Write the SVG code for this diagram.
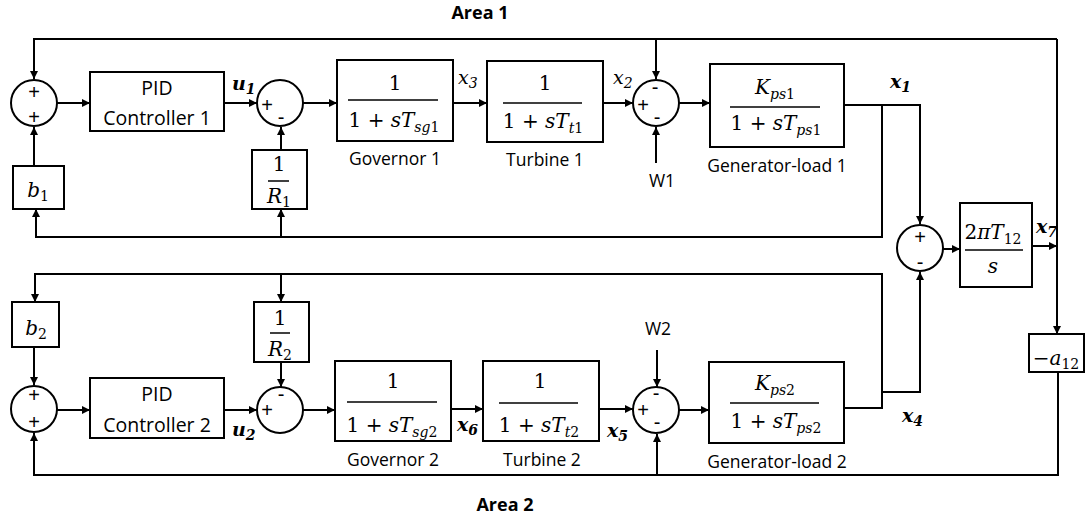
<svg xmlns="http://www.w3.org/2000/svg" width="1087" height="520" viewBox="0 0 1087 520">
<defs>
<marker id="ah" viewBox="0 0 10 10" refX="10" refY="5" markerWidth="9" markerHeight="8" markerUnits="userSpaceOnUse" orient="auto"><path d="M0,0 L10,5 L0,10 z" fill="#000"/></marker>
<style>
.ln{fill:none;stroke:#000;stroke-width:2}
.ar{fill:none;stroke:#000;stroke-width:2;marker-end:url(#ah)}
.bx{fill:#fff;stroke:#000;stroke-width:2}
.fl{stroke:#000;stroke-width:1.5}
.sn{font-family:'Open Sans','Liberation Sans',sans-serif;font-size:17.5px;fill:#000;text-anchor:middle}
.pid{font-family:'Open Sans','Liberation Sans',sans-serif;font-size:19.5px;fill:#000;text-anchor:middle}
.mt{font-family:'DejaVu Serif','Liberation Serif',serif;font-size:20px;fill:#000;text-anchor:middle}
.it{font-style:italic}
.sub{font-size:14px}
.lb{font-family:'DejaVu Serif','Liberation Serif',serif;font-style:italic;font-weight:bold;font-size:19px;fill:#000}
.lr{font-family:'DejaVu Serif','Liberation Serif',serif;font-style:italic;font-size:19px;fill:#000}
.sg{font-family:'Liberation Sans','Open Sans',sans-serif;font-size:20px;fill:#000;text-anchor:middle}
.ttl{font-family:'Open Sans','Liberation Sans',sans-serif;font-weight:bold;font-size:18px;fill:#000;text-anchor:middle}
</style>
</defs>
<rect width="1087" height="520" fill="#fff"/>

<g id="connectors">
<path class="ar" d="M1057,39 H34 V79"/>
<path class="ar" d="M656,39 V79"/>
<path class="ar" d="M1057,39 V334"/>
<path class="ar" d="M1032,246 H1057"/>
<path class="ar" d="M1058,372 V475 H34 V433"/>
<path class="ar" d="M657,475 V434"/>
<path class="ar" d="M844,105 H920 V224"/>
<path class="ar" d="M882,105 V237 H36 V209"/>
<path class="ar" d="M281,237 V209"/>
<path class="ar" d="M34,166 V127"/>
<path class="ar" d="M281,150 V127"/>
<path class="ar" d="M57,103 H90"/>
<path class="ar" d="M224,103 H257"/>
<path class="ar" d="M303,103 H337"/>
<path class="ar" d="M453,103 H487"/>
<path class="ar" d="M603,103 H633"/>
<path class="ar" d="M679,103 H710"/>
<path class="ar" d="M656,163 V127"/>
<path class="ar" d="M943,249 H960"/>
<path class="ar" d="M844,408 H882 V274 H35 V302"/>
<path class="ar" d="M281,274 V302"/>
<path class="ar" d="M882,392 H920 V272"/>
<path class="ar" d="M34,347 V385"/>
<path class="ar" d="M281,362 V387"/>
<path class="ar" d="M57,410 H90"/>
<path class="ar" d="M224,410 H257"/>
<path class="ar" d="M303,410 H335"/>
<path class="ar" d="M451,409 H483"/>
<path class="ar" d="M599,409 H633"/>
<path class="ar" d="M679,410 H709"/>
<path class="ar" d="M657,350 V387"/>
</g>

<g id="titles">
<text class="ttl" x="480" y="19">Area 1</text>
<text class="ttl" x="505" y="511">Area 2</text>
</g>

<g id="sum1">
<circle class="bx" cx="34" cy="103" r="23"/>
<text class="sg" x="34" y="99">+</text>
<text class="sg" x="34" y="124">+</text>
</g>
<g id="pid1">
<rect class="bx" x="90" y="72" width="134" height="59"/>
<text class="pid" x="157" y="95">PID</text>
<text class="pid" x="157" y="125">Controller 1</text>
</g>
<text id="u1" class="lb" x="232" y="90">u<tspan class="sub" dy="4">1</tspan></text>
<g id="sum2">
<circle class="bx" cx="280" cy="103" r="23"/>
<text class="sg" x="267" y="112">+</text>
<text class="sg" x="281" y="124">-</text>
</g>
<g id="r1">
<rect class="bx" x="252" y="150" width="55" height="59"/>
<text class="mt" x="279" y="171">1</text>
<line class="fl" x1="268" y1="181" x2="289" y2="181"/>
<text class="mt" x="279" y="203"><tspan class="it">R</tspan><tspan class="sub" dy="4">1</tspan></text>
</g>
<g id="b1">
<rect class="bx" x="13" y="166" width="51" height="43"/>
<text class="mt" x="38" y="197"><tspan class="it">b</tspan><tspan class="sub" dy="4">1</tspan></text>
</g>
<g id="gov1">
<rect class="bx" x="337" y="60" width="116" height="81"/>
<text class="mt" x="395" y="90">1</text>
<line class="fl" x1="348" y1="100" x2="438" y2="100"/>
<text class="mt" x="394" y="127">1 + <tspan class="it">sT</tspan><tspan class="it sub" dy="5">sg</tspan><tspan class="sub">1</tspan></text>
<text class="sn" x="395" y="165">Governor 1</text>
</g>
<text id="x3" class="lr" x="458" y="84">x<tspan class="sub" dy="4">3</tspan></text>
<g id="turb1">
<rect class="bx" x="487" y="61" width="116" height="81"/>
<text class="mt" x="545" y="90">1</text>
<line class="fl" x1="503" y1="103" x2="582" y2="103"/>
<text class="mt" x="543" y="128">1 + <tspan class="it">sT</tspan><tspan class="it sub" dy="5">t</tspan><tspan class="sub">1</tspan></text>
<text class="sn" x="545" y="166">Turbine 1</text>
</g>
<text id="x2" class="lr" x="613" y="84">x<tspan class="sub" dy="4">2</tspan></text>
<g id="sum3">
<circle class="bx" cx="656" cy="103" r="23"/>
<text class="sg" x="655" y="94">-</text>
<text class="sg" x="643" y="112">+</text>
<text class="sg" x="657" y="124">-</text>
<text class="sn" x="662" y="187">W1</text>
</g>
<g id="gen1">
<rect class="bx" x="710" y="64" width="134" height="83"/>
<text class="mt" x="775" y="94"><tspan class="it">K</tspan><tspan class="it sub" dy="5">ps</tspan><tspan class="sub">1</tspan></text>
<line class="fl" x1="730" y1="107" x2="820" y2="107"/>
<text class="mt" x="776" y="130">1 + <tspan class="it">sT</tspan><tspan class="it sub" dy="5">ps</tspan><tspan class="sub">1</tspan></text>
<text class="sn" x="777" y="172">Generator-load 1</text>
</g>
<text id="x1" class="lb" x="890" y="88">x<tspan class="sub" dy="4">1</tspan></text>
<g id="sum4">
<circle class="bx" cx="920" cy="248" r="23"/>
<text class="sg" x="920" y="244">+</text>
<text class="sg" x="920" y="269">-</text>
</g>
<g id="tie">
<rect class="bx" x="960" y="203" width="72" height="84"/>
<text class="mt" x="993" y="239">2<tspan class="it">πT</tspan><tspan class="sub" dy="5">12</tspan></text>
<line class="fl" x1="965" y1="250" x2="1023" y2="250"/>
<text class="mt it" x="993" y="273">s</text>
</g>
<text id="x7" class="lb" x="1036" y="233">x<tspan class="sub" dy="4">7</tspan></text>
<g id="a12">
<rect class="bx" x="1029" y="334" width="55" height="38"/>
<text class="mt" x="1056" y="365">−<tspan class="it">a</tspan><tspan class="sub" dy="4">12</tspan></text>
</g>

<g id="b2">
<rect class="bx" x="12" y="302" width="47" height="45"/>
<text class="mt" x="36" y="335"><tspan class="it">b</tspan><tspan class="sub" dy="4">2</tspan></text>
</g>
<g id="sum5">
<circle class="bx" cx="34" cy="409" r="23"/>
<text class="sg" x="34" y="402">+</text>
<text class="sg" x="34" y="429">+</text>
</g>
<g id="pid2">
<rect class="bx" x="90" y="378" width="134" height="60"/>
<text class="pid" x="157" y="401">PID</text>
<text class="pid" x="157" y="432">Controller 2</text>
</g>
<text id="u2" class="lb" x="232" y="436">u<tspan class="sub" dy="4">2</tspan></text>
<g id="r2">
<rect class="bx" x="254" y="302" width="55" height="60"/>
<text class="mt" x="280" y="325">1</text>
<line class="fl" x1="270" y1="333" x2="290" y2="333"/>
<text class="mt" x="280" y="356"><tspan class="it">R</tspan><tspan class="sub" dy="4">2</tspan></text>
</g>
<g id="sum6">
<circle class="bx" cx="280" cy="410" r="23"/>
<text class="sg" x="267" y="417">+</text>
<text class="sg" x="281" y="401">-</text>
</g>
<g id="gov2">
<rect class="bx" x="335" y="361" width="116" height="80"/>
<text class="mt" x="393" y="388">1</text>
<line class="fl" x1="347" y1="402" x2="437" y2="402"/>
<text class="mt" x="392" y="432">1 + <tspan class="it">sT</tspan><tspan class="it sub" dy="5">sg</tspan><tspan class="sub">2</tspan></text>
<text class="sn" x="393" y="466">Governor 2</text>
</g>
<text id="x6" class="lb" x="457" y="431">x<tspan class="sub" dy="4">6</tspan></text>
<g id="turb2">
<rect class="bx" x="483" y="361" width="116" height="80"/>
<text class="mt" x="540" y="388">1</text>
<line class="fl" x1="499" y1="403" x2="578" y2="403"/>
<text class="mt" x="539" y="432">1 + <tspan class="it">sT</tspan><tspan class="it sub" dy="5">t</tspan><tspan class="sub">2</tspan></text>
<text class="sn" x="542" y="466">Turbine 2</text>
</g>
<text id="x5" class="lb" x="607" y="437">x<tspan class="sub" dy="4">5</tspan></text>
<g id="sum7">
<circle class="bx" cx="656" cy="410" r="23"/>
<text class="sg" x="656" y="400">-</text>
<text class="sg" x="643" y="417">+</text>
<text class="sg" x="657" y="429">-</text>
<text class="sn" x="658" y="335">W2</text>
</g>
<g id="gen2">
<rect class="bx" x="709" y="362" width="135" height="81"/>
<text class="mt" x="775" y="390"><tspan class="it">K</tspan><tspan class="it sub" dy="5">ps</tspan><tspan class="sub">2</tspan></text>
<line class="fl" x1="730" y1="403" x2="819" y2="403"/>
<text class="mt" x="776" y="428">1 + <tspan class="it">sT</tspan><tspan class="it sub" dy="5">ps</tspan><tspan class="sub">2</tspan></text>
<text class="sn" x="777" y="468">Generator-load 2</text>
</g>
<text id="x4" class="lb" x="902" y="422">x<tspan class="sub" dy="4">4</tspan></text>
</svg>
